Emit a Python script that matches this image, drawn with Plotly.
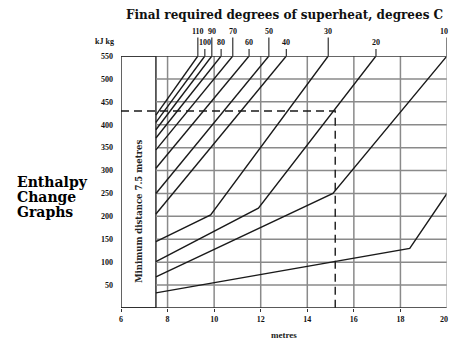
import plotly.graph_objects as go

# ---- data ----
superheat_labels = ["110", "100", "90", "80", "70", "60", "50", "40", "30", "20", "10", ""]
line_x = [
    [7.5, 9.3],
    [7.5, 9.6],
    [7.5, 9.9],
    [7.5, 10.3],
    [7.5, 10.8],
    [7.5, 11.5],
    [7.5, 12.35],
    [7.5, 13.1],
    [7.5, 9.85, 14.9],
    [7.5, 11.9, 16.95],
    [7.5, 15.1, 20.0],
    [7.5, 10.0, 18.4, 20.0],
]
line_y = [
    [421, 550],
    [405, 550],
    [389, 550],
    [371, 550],
    [345, 550],
    [305, 550],
    [250, 550],
    [205, 550],
    [145, 203, 550],
    [101, 218, 550],
    [68, 250, 550],
    [33, 55, 130, 250],
]
label_row = [1, 2, 1, 2, 1, 2, 1, 2, 1, 2, 1, 0]
x_ticks = [6, 8, 10, 12, 14, 16, 18, 20]
y_ticks = [50, 100, 150, 200, 250, 300, 350, 400, 450, 500, 550]
example_y = 430
example_x = 15.2
min_distance = 7.5

SERIF = "Liberation Serif"
W, H = 449, 340
ML, MR, MT, MB = 121, 2, 56, 32

fig = go.Figure()

for xs, ys in zip(line_x, line_y):
    fig.add_trace(go.Scatter(x=xs, y=ys, mode="lines",
                             line=dict(color="#1a1a1a", width=1.4),
                             hoverinfo="skip", showlegend=False))

fig.add_trace(go.Scatter(x=[6, example_x, example_x], y=[example_y, example_y, 0], mode="lines",
                         line=dict(color="#1a1a1a", width=1.4, dash="8px,5px"),
                         hoverinfo="skip", showlegend=False))

shapes = []
shapes.append(dict(type="rect", xref="x", yref="y", x0=6, x1=min_distance, y0=0, y1=550,
                   fillcolor="white", line=dict(color="#222", width=1.4), layer="below"))
for yv in y_ticks[:-1]:
    shapes.append(dict(type="line", xref="x", yref="y", x0=min_distance, x1=20, y0=yv, y1=yv,
                       line=dict(color="#8a8a8a", width=1.5), layer="below"))
for xv in x_ticks[1:-1]:
    shapes.append(dict(type="line", xref="x", yref="y", x0=xv, x1=xv, y0=0, y1=550,
                       line=dict(color="#8a8a8a", width=1.5), layer="below"))
shapes.append(dict(type="line", xref="x", yref="y", x0=6, x1=20, y0=550, y1=550,
                   line=dict(color="#333", width=1.5)))
shapes.append(dict(type="line", xref="x", yref="y", x0=6, x1=20, y0=0, y1=0,
                   line=dict(color="#222", width=1.6)))
shapes.append(dict(type="line", xref="x", yref="y", x0=20, x1=20, y0=0, y1=550,
                   line=dict(color="#aaa", width=1.2)))

annotations = []
row_y = {1: 1.099, 2: 1.052}
for lab, xs, row in zip(superheat_labels, line_x, label_row):
    if not lab:
        continue
    xt = xs[-1]
    edge = xt >= 19.9
    annotations.append(dict(x=xt, y=row_y[row], xref="x", yref="paper", text="<b>%s</b>" % lab,
                            showarrow=False, font=dict(family=SERIF, size=8, color="#111"),
                            yanchor="middle", xanchor="right" if edge else "center",
                            xshift=3 if edge else 0))
    top = 1.073 if row == 1 else 1.028
    shapes.append(dict(type="line", xref="x", yref="paper", x0=xt, x1=xt, y0=1.0, y1=top,
                       line=dict(color="#333", width=1.2)))

# last x tick label, kept inside the page
annotations.append(dict(x=x_ticks[-1], y=-0.045, xref="x", yref="paper",
                        text="<b>%d</b>" % x_ticks[-1], showarrow=False,
                        font=dict(family=SERIF, size=8, color="#111"),
                        xanchor="right", xshift=3, yanchor="middle"))

annotations.append(dict(x=0.5, y=1.163, xref="paper", yref="paper",
                        text="<b>Final required degrees of superheat, degrees C</b>", showarrow=False,
                        font=dict(family="DejaVu Serif", size=12, color="#111"),
                        xanchor="center", yanchor="middle"))
annotations.append(dict(x=-0.052, y=1.056, xref="paper", yref="paper", text="<b>kJ kg</b>",
                        showarrow=False, font=dict(family=SERIF, size=8, color="#111"),
                        xanchor="center", yanchor="middle"))
for i, word in enumerate(["Enthalpy", "Change", "Graphs"]):
    annotations.append(dict(x=-0.325, y=0.5 - i * 0.0595, xref="paper", yref="paper",
                            text="<b>%s</b>" % word, showarrow=False,
                            font=dict(family="DejaVu Serif", size=14, color="#000"),
                            xanchor="left", yanchor="middle"))
annotations.append(dict(x=6.77, y=212, xref="x", yref="y", text="<b>Minimum distance 7.5 metres</b>",
                        textangle=-90, showarrow=False,
                        font=dict(family="DejaVu Serif", size=8.5, color="#222")))
annotations.append(dict(x=0.5, y=-0.107, xref="paper", yref="paper", text="<b>metres</b>",
                        showarrow=False, font=dict(family=SERIF, size=9, color="#222"),
                        xanchor="center", yanchor="middle"))

fig.update_layout(
    width=W, height=H,
    margin=dict(l=ML, r=MR, t=MT, b=MB),
    paper_bgcolor="white", plot_bgcolor="white",
    shapes=shapes, annotations=annotations,
    xaxis=dict(range=[6, 20], tickvals=x_ticks[:-1], ticktext=["<b>%d</b>" % v for v in x_ticks[:-1]],
               showgrid=False, zeroline=False, ticks="outside", ticklen=3, tickcolor="#333",
               tickfont=dict(family=SERIF, size=8, color="#111"), fixedrange=True),
    yaxis=dict(range=[0, 550], tickvals=y_ticks, ticktext=["<b>%d</b>" % v for v in y_ticks],
               showgrid=False, zeroline=False, ticks="", ticklabelstandoff=7,
               tickfont=dict(family=SERIF, size=8, color="#111"), fixedrange=True),
)

fig.write_html("out.html", config={"displayModeBar": False, "staticPlot": True},
               post_script="document.body.style.margin='0px';document.body.style.overflow='hidden';")
